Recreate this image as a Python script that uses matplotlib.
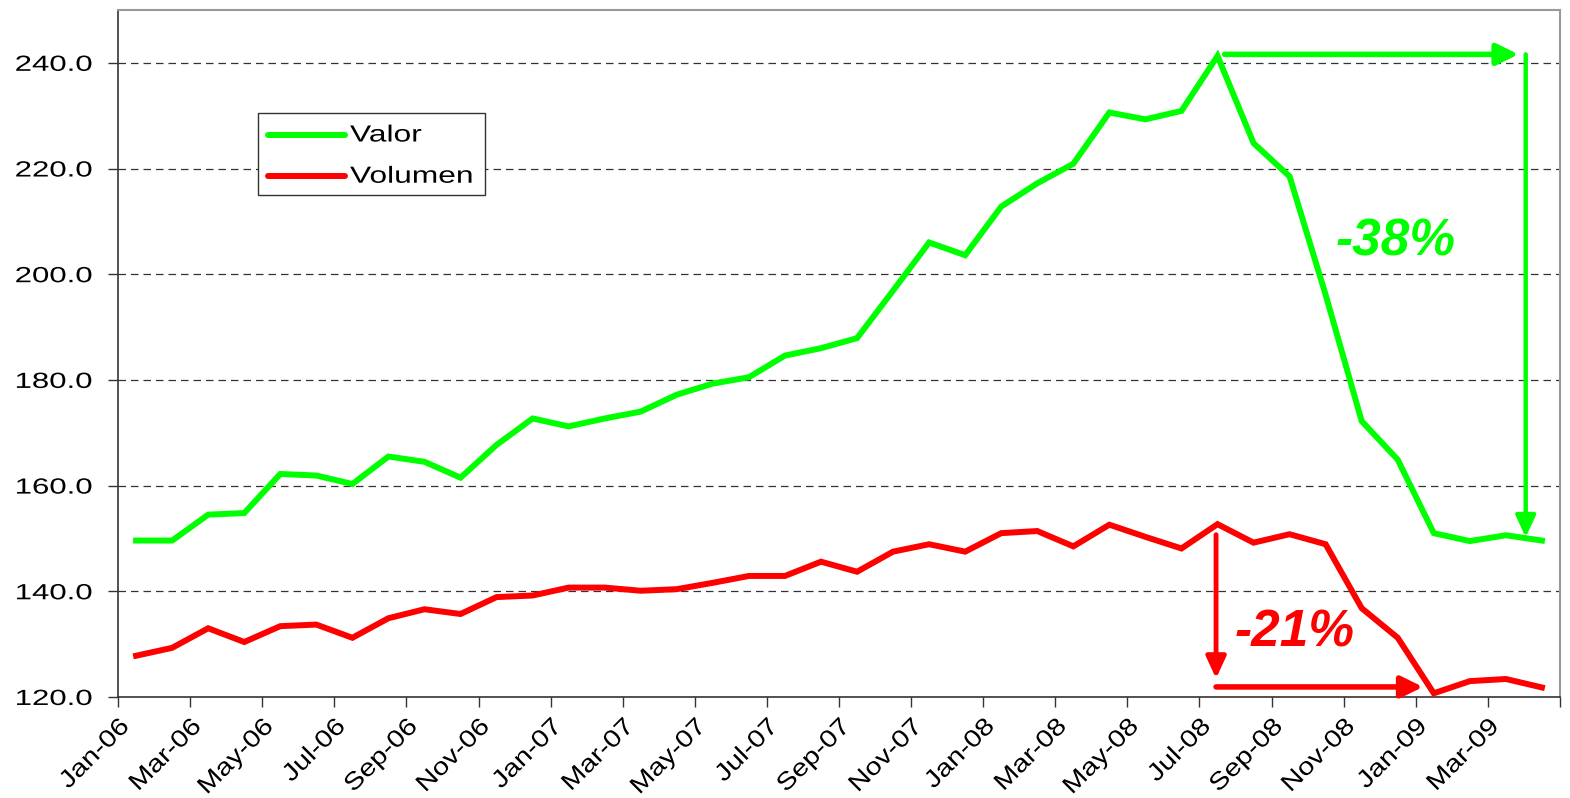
import matplotlib
matplotlib.use("Agg")
import matplotlib.pyplot as plt
from matplotlib.patheffects import AbstractPathEffect
from matplotlib.transforms import Affine2D
from matplotlib.lines import Line2D
from matplotlib.patches import Rectangle
import numpy as np

plt.rcParams['font.family'] = ['Liberation Sans', 'DejaVu Sans']

# ---- data ----
months = ["Jan-06", "Feb-06", "Mar-06", "Apr-06", "May-06", "Jun-06", "Jul-06", "Aug-06",
          "Sep-06", "Oct-06", "Nov-06", "Dec-06", "Jan-07", "Feb-07", "Mar-07", "Apr-07",
          "May-07", "Jun-07", "Jul-07", "Aug-07", "Sep-07", "Oct-07", "Nov-07", "Dec-07",
          "Jan-08", "Feb-08", "Mar-08", "Apr-08", "May-08", "Jun-08", "Jul-08", "Aug-08",
          "Sep-08", "Oct-08", "Nov-08", "Dec-08", "Jan-09", "Feb-09", "Mar-09", "Apr-09"]
valor = [149.6, 149.6, 154.5, 154.8, 162.2, 161.9, 160.3, 165.5, 164.5, 161.5,
         167.7, 172.7, 171.2, 172.7, 174.0, 177.2, 179.3, 180.5, 184.6, 186.0,
         187.9, 196.9, 206.0, 203.6, 212.8, 217.2, 220.9, 230.6, 229.3, 230.9,
         241.3, 224.8, 218.5, 196.1, 172.2, 164.9, 151.0, 149.5, 150.6, 149.6]
volumen = [127.8, 129.3, 133.0, 130.4, 133.4, 133.7, 131.2, 134.9, 136.6, 135.7,
           138.9, 139.2, 140.7, 140.7, 140.1, 140.4, 141.6, 142.9, 142.9, 145.6,
           143.7, 147.5, 148.9, 147.5, 151.0, 151.4, 148.5, 152.6, 150.3, 148.1,
           152.7, 149.2, 150.8, 148.9, 136.8, 131.2, 120.7, 123.0, 123.4, 121.8]
yticks = [120, 140, 160, 180, 200, 220, 240]
labels = ["Valor", "Volumen"]
pct_labels = ["-38%", "-21%"]

GREEN = "#00FF00"
RED = "#FF0000"


class Stretch(AbstractPathEffect):
    """Widen glyphs along the text baseline (the source font is wide)."""
    def __init__(self, sx=1.4, anchor='right'):
        super().__init__()
        self.sx = sx
        self.anchor = anchor

    def draw_path(self, renderer, gc, tpath, affine, rgbFace=None):
        ext = tpath.get_extents()
        if self.anchor == 'right':
            x0 = ext.x1
        elif self.anchor == 'left':
            x0 = ext.x0
        else:
            x0 = 0.5 * (ext.x0 + ext.x1)
        t = Affine2D().translate(-x0, 0).scale(self.sx, 1).translate(x0, 0) + affine
        renderer.draw_path(gc, tpath, t, rgbFace)


fig = plt.figure(figsize=(15.7, 7.98), dpi=100)
ax = fig.add_axes([0.0752, 0.1266, 0.9184, 0.8609])

x = np.arange(len(months)) + 0.5
ax.plot(x, valor, color=GREEN, lw=4.3, label=labels[0], solid_joinstyle='miter', zorder=3)
ax.plot(x, volumen, color=RED, lw=4.3, label=labels[1], solid_joinstyle='miter', zorder=3)

ax.set_xlim(0, len(months))
ax.set_ylim(120, 250)
ax.set_yticks(yticks)
ax.set_yticklabels([f"{v:.1f}" for v in yticks], fontsize=15.8)
tick_pos = np.arange(0, len(months) + 1, 2)
ax.set_xticks(tick_pos)
ax.set_xticklabels([months[i] if i < len(months) else "" for i in tick_pos],
                   rotation=45, ha='right', rotation_mode='anchor', fontsize=17.5)
ax.tick_params(axis='both', direction='out', length=7.5, width=1, color='#333333')
ax.tick_params(axis='y', pad=11)
ax.tick_params(axis='x', pad=6)
for lab in ax.get_yticklabels():
    lab.set_path_effects([Stretch(1.42, 'right')])
for lab in ax.get_xticklabels():
    lab.set_path_effects([Stretch(1.18, 'right')])

for v in yticks[1:]:
    ax.axhline(v, color='#333333', lw=0.9, ls=(0, (6, 4)), zorder=1)

for s in ['left', 'bottom']:
    ax.spines[s].set_color('#333333')
    ax.spines[s].set_linewidth(1.2)
for s in ['top', 'right']:
    ax.spines[s].set_color('#999999')
    ax.spines[s].set_linewidth(1.5)

# ---- legend (drawn by hand so the wide font fits its box) ----
lx0, lx1, ly0, ly1 = 0.0971, 0.2545, 0.7307, 0.850
ax.add_patch(Rectangle((lx0, ly0), lx1 - lx0, ly1 - ly0, transform=ax.transAxes,
                       facecolor='white', edgecolor='#333333', lw=1.0, zorder=5))
for name, col, yy in [(labels[0], GREEN, 0.818), (labels[1], RED, 0.758)]:
    ax.add_line(Line2D([0.1042, 0.1572], [yy, yy], transform=ax.transAxes, color=col,
                       lw=4.3, solid_capstyle='round', zorder=6))
    t = ax.text(0.1609, yy, name, transform=ax.transAxes, fontsize=16.8,
                ha='left', va='center', zorder=6)
    t.set_path_effects([Stretch(1.36, 'left')])

# ---- annotations ----
ipk = int(np.argmax(valor))
xpk = x[ipk]
xg = 39.05
ax.annotate("", xy=(38.85, valor[ipk] + 0.3), xytext=(xpk + 0.2, valor[ipk] + 0.3),
            arrowprops=dict(arrowstyle='-|>,head_length=0.65,head_width=0.32',
                            color=GREEN, lw=4, mutation_scale=20, shrinkA=0, shrinkB=0))
ax.annotate("", xy=(xg, valor[-1] + 0.6), xytext=(xg, valor[ipk] + 0.3),
            arrowprops=dict(arrowstyle='-|>,head_length=0.65,head_width=0.3',
                            color=GREEN, lw=3.2, mutation_scale=20, shrinkA=0, shrinkB=0))
ax.text(35.45, 206.0, pct_labels[0], color=GREEN, fontsize=37, fontweight='bold',
        fontstyle='italic', ha='center', va='center')

ipr = int(np.argmax(volumen))
xr = x[ipr] - 0.04
ax.annotate("", xy=(xr, 123.5), xytext=(xr, volumen[ipr] - 2.0),
            arrowprops=dict(arrowstyle='-|>,head_length=0.65,head_width=0.3',
                            color=RED, lw=3.5, mutation_scale=20, shrinkA=0, shrinkB=0))
ax.annotate("", xy=(36.2, 121.9), xytext=(xr, 121.9),
            arrowprops=dict(arrowstyle='-|>,head_length=0.65,head_width=0.32',
                            color=RED, lw=4, mutation_scale=20, shrinkA=0, shrinkB=0))
ax.text(32.65, 132.2, pct_labels[1], color=RED, fontsize=37, fontweight='bold',
        fontstyle='italic', ha='center', va='center')

fig.savefig("out.png", dpi=100)
